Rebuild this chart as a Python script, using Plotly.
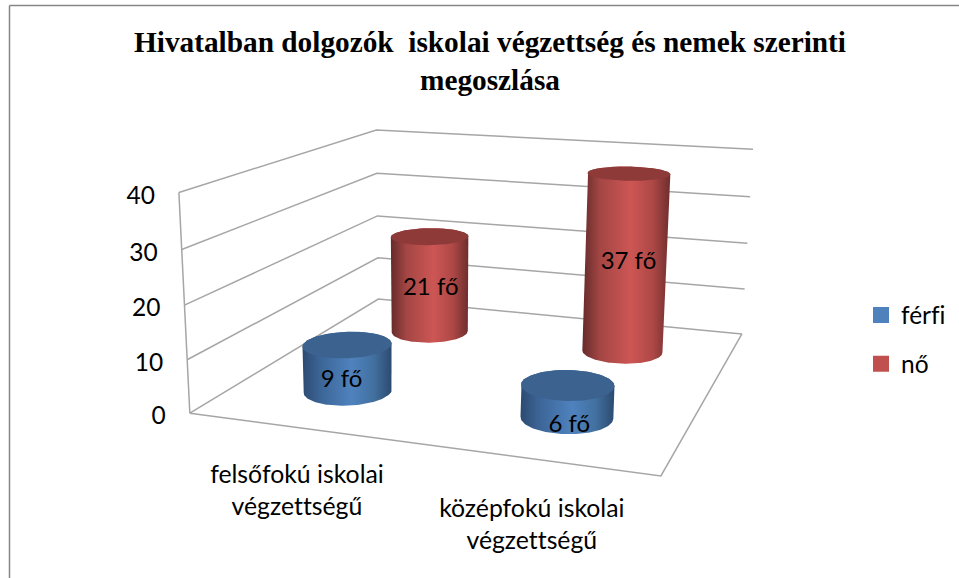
import numpy as np
import plotly.graph_objects as go

# ---- data ----
categories = ["felsőfokú iskolai<br>végzettségű", "középfokú iskolai<br>végzettségű"]
series_names = ["férfi", "nő"]
ferfi = [9, 6]
no = [21, 37]
ticks = [0, 10, 20, 30, 40]
title_text = "<b>Hivatalban dolgozók \u00a0iskolai végzettség és nemek szerinti<br>megoszlása</b>"

# ---- layout constants ----
W, H = 959, 578
ZMAX = 40
cat_pos = [0.25, 0.75]
ser_pos = [0.25, 0.75]
RU, RV = 0.096, 0.102
FONT = "Lato"
FS = 24.5
GRID = "#a6a6a6"
BLUE = [[0, "#2c4a70"], [.2, "#3c6597"], [.55, "#4f82be"], [.8, "#42709f"], [1, "#2c4a70"]]
RED = [[0, "#652b2a"], [.2, "#a34644"], [.55, "#cd5654"], [.8, "#ad4846"], [1, "#6e2e2d"]]
BLUE_CAP, RED_CAP = "#3c628f", "#8e3a39"
ferfi_label_shift = [(-6, 13), (2, 25)]
no_label_shift = [(1, 5), (3, -1)]

# camera of the oblique box: (category, series, value/ZMAX) -> screen, solved from the box corners
box = np.array([[0,0,0],[0,0,.25],[0,0,.5],[0,0,.75],[0,0,1],[0,1,0],[0,1,.25],[0,1,.5],[0,1,.75],[0,1,1],
                [1,1,0],[1,1,.25],[1,1,.5],[1,1,.75],[1,1,1],[1,0,0]], float)
screen = np.array([[190,413],[187,360],[185,305],[182,249],[178,193],[378,299],[378,258],[377,216],[377,173],[377,130],
                   [742,334],[745,289],[747,243],[750,197],[753,149],[661,476]], float)
rows = []
for (a, b, c), (sx, sy) in zip(box, screen):
    rows.append([a, b, c, 1, 0, 0, 0, 0, -sx*a, -sx*b, -sx*c, -sx])
    rows.append([0, 0, 0, 0, a, b, c, 1, -sy*a, -sy*b, -sy*c, -sy])
P = np.linalg.svd(np.array(rows))[2][-1].reshape(3, 4)

def proj(u, v, val):
    u, v, val = np.broadcast_arrays(np.asarray(u, float), np.asarray(v, float), np.asarray(val, float))
    q = P @ np.vstack([u.ravel(), v.ravel(), val.ravel()/ZMAX, np.ones(u.size)])
    return q[0]/q[2], q[1]/q[2]

def hull(x, y):
    pts = sorted(set(zip(np.round(x, 3).tolist(), np.round(y, 3).tolist())))
    def half(seq):
        out = []
        for p in seq:
            while len(out) > 1 and (out[-1][0]-out[-2][0])*(p[1]-out[-2][1])-(out[-1][1]-out[-2][1])*(p[0]-out[-2][0]) <= 0:
                out.pop()
            out.append(p)
        return out[:-1]
    h = half(pts)+half(pts[::-1])
    h.append(h[0])
    return [p[0] for p in h], [p[1] for p in h]

fig = go.Figure()
def line(u, v, val):
    x, y = proj(u, v, val)
    fig.add_trace(go.Scatter(x=x, y=y, mode="lines", line=dict(color=GRID, width=1.5), hoverinfo="skip", showlegend=False))
for t in ticks:
    line([0, 0, 1], [0, 1, 1], [t, t, t])
line([0, 0], [0, 0], [0, ZMAX])
line([1, 1, 0], [1, 0, 0], [0, 0, 0])

def cylinder(cu, cv, h, grad, cap):
    th = np.linspace(0, 2*np.pi, 145)
    u, v = cu + RU*np.cos(th), cv + RV*np.sin(th)
    xb, yb = proj(u, v, 0*th)
    xt, yt = proj(u, v, 0*th+h)
    hx, hy = hull(np.r_[xb, xt], np.r_[yb, yt])
    fig.add_trace(go.Scatter(x=hx, y=hy, mode="lines", line=dict(width=0), fill="toself",
                             fillgradient=dict(type="horizontal", colorscale=grad), hoverinfo="skip", showlegend=False))
    fig.add_trace(go.Scatter(x=xt, y=yt, mode="lines", line=dict(width=0), fill="toself", fillcolor=cap,
                             hoverinfo="skip", showlegend=False))
for i, cu in enumerate(cat_pos):
    cylinder(cu, ser_pos[1], no[i], RED, RED_CAP)
for i, cu in enumerate(cat_pos):
    cylinder(cu, ser_pos[0], ferfi[i], BLUE, BLUE_CAP)

tf = dict(family=FONT, size=FS, color="#000")
x0, y0 = proj([0]*len(ticks), [0]*len(ticks), ticks)
fig.add_trace(go.Scatter(x=x0-24, y=y0+5, text=[str(t) for t in ticks], mode="text", textposition="middle left", textfont=tf, hoverinfo="skip", showlegend=False))
cx, cy = proj(cat_pos, [0, 0], [0, 0])
fig.add_trace(go.Scatter(x=cx, y=cy+np.array([65, 68]), text=categories, mode="text", textposition="middle center",
                         textfont=dict(family=FONT, size=24.8, color="#000"), hoverinfo="skip", showlegend=False))
for vals, sv, shift in ((ferfi, ser_pos[0], ferfi_label_shift), (no, ser_pos[1], no_label_shift)):
    lx, ly = proj(cat_pos, [sv, sv], np.array(vals)/2)
    s = np.array(shift)
    fig.add_trace(go.Scatter(x=lx+s[:, 0], y=ly+s[:, 1], text=[f"{v} fő" for v in vals], mode="text", textposition="middle center",
                             textfont=dict(family=FONT, size=24, color="#000"), hoverinfo="skip", showlegend=False))

for name, color in zip(series_names, ["#4f81bd", "#c0504d"]):
    fig.add_trace(go.Scatter(x=[None], y=[None], name=name, mode="markers", legendgroup=name,
                             marker=dict(symbol="square", size=16, color=color)))

off = dict(visible=False, fixedrange=True, showgrid=False, zeroline=False)
fig.update_layout(
    width=W, height=H, margin=dict(l=0, r=0, t=0, b=0), paper_bgcolor="white", plot_bgcolor="white",
    xaxis=dict(range=[0, W], **off), yaxis=dict(range=[H, 0], **off),
    title=dict(text=title_text, x=490/W, xanchor="center", y=1-51.5/H, yanchor="middle", yref="container",
               font=dict(family="Liberation Serif", size=29.3, color="#000")),
    legend=dict(x=861/W, xanchor="left", y=1-292.5/H, yanchor="top", font=tf, tracegroupgap=14, bgcolor="rgba(0,0,0,0)", itemwidth=30),
    shapes=[
        dict(type="line", xref="paper", yref="paper", x0=9.5/W, x1=9.5/W, y0=0, y1=1-5.5/H, line=dict(color="#868686", width=1.5)),
        dict(type="line", xref="paper", yref="paper", x0=9.5/W, x1=1, y0=1-5.5/H, y1=1-5.5/H, line=dict(color="#868686", width=1.5)),
    ],
)
fig.write_html("out.html", config={"displayModeBar": False},
               post_script="document.body.style.margin='0';document.documentElement.style.overflow='hidden';"
                           "document.head.insertAdjacentHTML('beforeend','<style>text{font-variant-ligatures:none !important;font-feature-settings:\"liga\" 0,\"clig\" 0 !important}</style>');")
